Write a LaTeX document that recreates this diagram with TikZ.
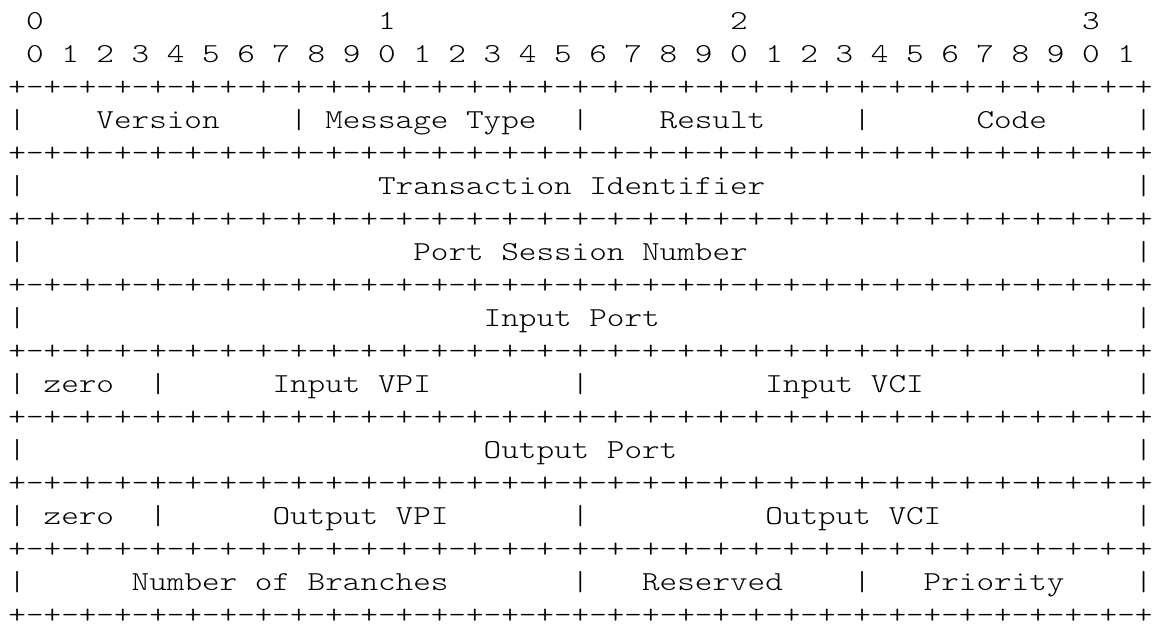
\documentclass[tikz,border=0pt]{standalone}
\usepackage{fontspec}
\setmonofont[FakeStretch=1.2235]{Latin Modern Mono Light}
\newcommand\sk[1]{\kern#1\fontcharwd\font`0\relax}
\newcommand\seprow{+-+-+-+-+-+-+-+-+-+-+-+-+-+-+-+-+-+-+-+-+-+-+-+-+-+-+-+-+-+-+-+-+}
\tikzset{asciirow/.style={anchor=base west, inner sep=0pt, outer sep=0pt, text depth=0pt,
  font=\fontsize{27.4pt}{33pt}\selectfont\ttfamily}}
\begin{document}
\begin{tikzpicture}[x=1pt,y=1pt]
\fill[white] (0,0) rectangle (1154,-625);
\useasboundingbox (0,0) rectangle (1154,-625);
\def\rx{8.5}
\node[asciirow] (r0) at (\rx,-29.6) {\sk{1}0\sk{19}1\sk{19}2\sk{19}3};
\node[asciirow] (r1) at (\rx,-62.6) {\sk{1}0\sk{1}1\sk{1}2\sk{1}3\sk{1}4\sk{1}5\sk{1}6\sk{1}7\sk{1}8\sk{1}9\sk{1}0\sk{1}1\sk{1}2\sk{1}3\sk{1}4\sk{1}5\sk{1}6\sk{1}7\sk{1}8\sk{1}9\sk{1}0\sk{1}1\sk{1}2\sk{1}3\sk{1}4\sk{1}5\sk{1}6\sk{1}7\sk{1}8\sk{1}9\sk{1}0\sk{1}1};
\node[asciirow] (r2) at (\rx,-95.6) {\seprow};
\node[asciirow] (r3) at (\rx,-128.6) {|\sk{4}Version\sk{4}|\sk{1}Message\sk{1}Type\sk{2}|\sk{4}Result\sk{5}|\sk{6}Code\sk{5}|};
\node[asciirow] (r4) at (\rx,-161.6) {\seprow};
\node[asciirow] (r5) at (\rx,-194.6) {|\sk{20}Transaction\sk{1}Identifier\sk{21}|};
\node[asciirow] (r6) at (\rx,-227.6) {\seprow};
\node[asciirow] (r7) at (\rx,-260.6) {|\sk{22}Port\sk{1}Session\sk{1}Number\sk{22}|};
\node[asciirow] (r8) at (\rx,-293.6) {\seprow};
\node[asciirow] (r9) at (\rx,-326.6) {|\sk{26}Input\sk{1}Port\sk{27}|};
\node[asciirow] (r10) at (\rx,-359.6) {\seprow};
\node[asciirow] (r11) at (\rx,-392.6) {|\sk{1}zero\sk{2}|\sk{6}Input\sk{1}VPI\sk{8}|\sk{10}Input\sk{1}VCI\sk{12}|};
\node[asciirow] (r12) at (\rx,-425.6) {\seprow};
\node[asciirow] (r13) at (\rx,-458.6) {|\sk{26}Output\sk{1}Port\sk{26}|};
\node[asciirow] (r14) at (\rx,-491.6) {\seprow};
\node[asciirow] (r15) at (\rx,-524.6) {|\sk{1}zero\sk{2}|\sk{6}Output\sk{1}VPI\sk{7}|\sk{10}Output\sk{1}VCI\sk{11}|};
\node[asciirow] (r16) at (\rx,-557.6) {\seprow};
\node[asciirow] (r17) at (\rx,-590.6) {|\sk{6}Number\sk{1}of\sk{1}Branches\sk{7}|\sk{3}Reserved\sk{4}|\sk{3}Priority\sk{4}|};
\node[asciirow] (r18) at (\rx,-623.6) {\seprow};
\end{tikzpicture}
\end{document}
